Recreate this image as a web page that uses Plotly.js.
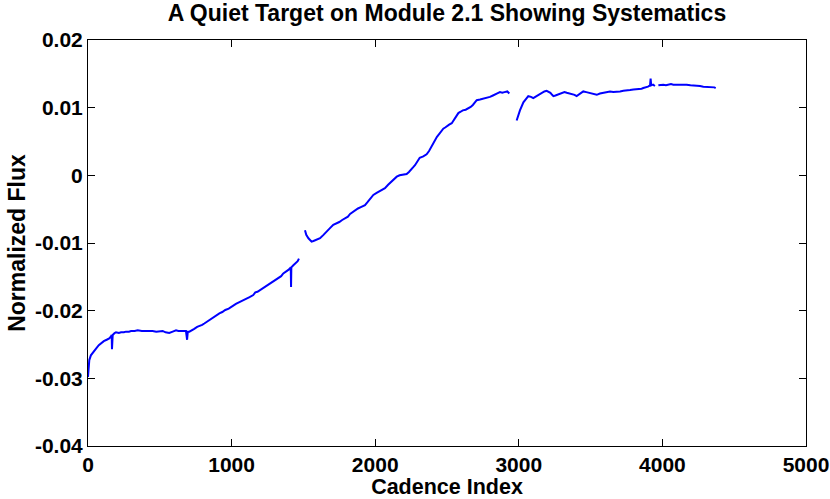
<!DOCTYPE html>
<html>
<head>
<meta charset="utf-8">
<script src="https://cdn.plot.ly/plotly-3.0.1.min.js"></script>
<style>html,body{margin:0;padding:0;background:#fff;}#chart{width:830px;height:499px;}</style>
</head>
<body>
<div id="chart"></div>
<script>
// Segment 1 (cadence 0 - ~1470)
const seg1Cadence = [0,5,9,20,35,56,75,90,110,130,148,160,165,167,169,172,185,195,215,230,250,265,285,300,325,346,375,400,425,450,475,500,520,540,566,590,613,630,650,670,682,690,695,706,725,740,760,775,795,810,830,845,865,880,900,915,935,956,980,1000,1030,1058,1080,1100,1125,1151,1165,1180,1195,1209,1230,1250,1270,1290,1310,1330,1345,1360,1375,1390,1400,1412,1414,1416,1430,1440,1450,1460,1469];
const seg1Flux = [-0.0298,-0.0285,-0.0273,-0.0266,-0.0261,-0.0256,-0.0251,-0.0248,-0.0245,-0.0243,-0.0241,-0.0238,-0.0236,-0.0257,-0.0236,-0.0236,-0.0233,-0.0232,-0.0233,-0.0232,-0.0232,-0.0231,-0.0231,-0.0230,-0.0230,-0.0229,-0.0230,-0.0230,-0.0229,-0.0230,-0.0231,-0.0231,-0.0230,-0.0232,-0.0233,-0.0231,-0.0229,-0.0230,-0.0230,-0.0231,-0.0230,-0.0243,-0.0231,-0.0231,-0.0229,-0.0227,-0.0224,-0.0223,-0.0221,-0.0219,-0.0216,-0.0214,-0.0212,-0.0209,-0.0206,-0.0204,-0.0202,-0.0199,-0.0197,-0.0194,-0.0190,-0.0187,-0.0185,-0.0182,-0.0180,-0.0177,-0.0173,-0.0172,-0.0170,-0.0167,-0.0165,-0.0162,-0.0160,-0.0157,-0.0154,-0.0151,-0.0149,-0.0145,-0.0143,-0.0140,-0.0139,-0.0136,-0.0165,-0.0136,-0.0133,-0.0131,-0.0130,-0.0127,-0.0123];

// Segment 2 (cadence ~1510 - ~2935)
const seg2Cadence = [1511,1520,1535,1545,1557,1570,1585,1600,1616,1640,1660,1685,1708,1730,1750,1770,1790,1810,1825,1845,1859,1880,1900,1915,1929,1945,1960,1975,1987,2010,2030,2050,2068,2090,2110,2130,2150,2170,2190,2205,2219,2235,2250,2265,2277,2295,2310,2335,2358,2375,2390,2405,2416,2430,2445,2460,2474,2490,2500,2515,2533,2545,2555,2568,2579,2595,2610,2630,2649,2665,2680,2695,2707,2730,2750,2775,2799,2820,2835,2850,2869,2885,2900,2920,2934];
const seg2Flux = [-0.0081,-0.0088,-0.0093,-0.0095,-0.0098,-0.0097,-0.0096,-0.0095,-0.0093,-0.0088,-0.0083,-0.0078,-0.0073,-0.0071,-0.0069,-0.0066,-0.0064,-0.0061,-0.0057,-0.0054,-0.0051,-0.0049,-0.0047,-0.0046,-0.0044,-0.0040,-0.0036,-0.0032,-0.0029,-0.0026,-0.0024,-0.0021,-0.0019,-0.0014,-0.0010,-0.0006,-0.0002,0.0000,0.0001,0.0001,0.0002,0.0005,0.0008,0.0012,0.0015,0.0021,0.0026,0.0028,0.0031,0.0036,0.0042,0.0047,0.0052,0.0057,0.0061,0.0065,0.0069,0.0071,0.0073,0.0075,0.0077,0.0081,0.0085,0.0089,0.0092,0.0094,0.0096,0.0097,0.0099,0.0101,0.0104,0.0108,0.0111,0.0112,0.0113,0.0114,0.0116,0.0118,0.0120,0.0121,0.0123,0.0122,0.0123,0.0124,0.0121];

// Segment 3 (cadence ~2985 - ~3950)
const seg3Cadence = [2985,3008,3032,3050,3066,3085,3101,3115,3130,3145,3160,3178,3194,3208,3220,3232,3241,3255,3270,3285,3300,3318,3334,3352,3370,3388,3403,3415,3425,3437,3449,3470,3490,3505,3520,3532,3543,3565,3590,3612,3635,3658,3680,3695,3705,3728,3751,3775,3798,3820,3840,3855,3867,3885,3900,3914,3918,3922,3935,3948];
const seg3Flux = [0.0081,0.0096,0.0108,0.0113,0.0117,0.0116,0.0114,0.0116,0.0118,0.0120,0.0122,0.0124,0.0125,0.0124,0.0122,0.0119,0.0117,0.0118,0.0119,0.0120,0.0121,0.0123,0.0122,0.0121,0.0120,0.0119,0.0117,0.0119,0.0121,0.0123,0.0124,0.0123,0.0122,0.0121,0.0120,0.0119,0.0119,0.0121,0.0122,0.0123,0.0124,0.0123,0.0123,0.0124,0.0124,0.0125,0.0125,0.0126,0.0127,0.0127,0.0128,0.0128,0.0129,0.0130,0.0131,0.0133,0.0143,0.0133,0.0134,0.0132];

// Segment 4 (cadence ~3970 - ~4370)
const seg4Cadence = [3972,3990,4006,4025,4040,4060,4076,4100,4120,4145,4169,4195,4220,4240,4262,4285,4310,4330,4350,4362,4371];
const seg4Flux = [0.0133,0.0134,0.0134,0.0133,0.0134,0.0135,0.0134,0.0134,0.0135,0.0134,0.0134,0.0133,0.0133,0.0132,0.0132,0.0131,0.0131,0.0131,0.0130,0.0130,0.0129];

const xTickVals = [0,1000,2000,3000,4000,5000];
const xTickText = ['0','1000','2000','3000','4000','5000'];
const yTickVals = [-0.04,-0.03,-0.02,-0.01,0,0.01,0.02];
const yTickText = ['-0.04','-0.03','-0.02','-0.01','0','0.01','0.02'];

const segments = [[seg1Cadence,seg1Flux],[seg2Cadence,seg2Flux],[seg3Cadence,seg3Flux],[seg4Cadence,seg4Flux]];
const traces = segments.map(s => ({
  x: s[0], y: s[1], type: 'scatter', mode: 'lines',
  line: {color: '#0000ff', width: 2}, hoverinfo: 'skip', showlegend: false
}));

const FONT = 'Liberation Sans, Arial, Helvetica, sans-serif';
const layout = {
  width: 830, height: 499,
  margin: {l: 88, r: 24, t: 40, b: 53},
  paper_bgcolor: '#ffffff', plot_bgcolor: '#ffffff',
  font: {family: FONT, color: '#000000'},
  showlegend: false,
  title: {text: '<b>A Quiet Target on Module 2.1 Showing Systematics</b>', font: {family: FONT, size: 23, color: '#000'}, x: 0.5385, xanchor: 'center', y: 0.99, yanchor: 'top'},
  xaxis: {
    range: [0, 5000], tickmode: 'array', tickvals: xTickVals, ticktext: xTickText.map(t => '<b>' + t + '</b>'),
    ticks: 'inside', ticklen: 7, tickcolor: '#000', tickwidth: 1,
    showline: true, linecolor: '#000', linewidth: 1, mirror: 'ticks',
    showgrid: false, zeroline: false, ticklabeloverflow: 'allow',
    tickfont: {family: FONT, size: 21, color: '#000'},
    title: {text: '<b>Cadence Index</b>', font: {family: FONT, size: 21.5, color: '#000'}, standoff: 0}
  },
  yaxis: {
    range: [-0.04, 0.02], tickmode: 'array', tickvals: yTickVals, ticktext: yTickText.map(t => '<b>' + t + '</b>'),
    ticks: 'inside', ticklen: 7, tickcolor: '#000', tickwidth: 1,
    showline: true, linecolor: '#000', linewidth: 1, mirror: 'ticks',
    showgrid: false, zeroline: false, ticklabeloverflow: 'allow',
    tickfont: {family: FONT, size: 21, color: '#000'},
    title: {text: '<b>Normalized Flux</b>', font: {family: FONT, size: 23, color: '#000'}, standoff: 2}
  }
};

Plotly.newPlot('chart', traces, layout, {staticPlot: true, displayModeBar: false});
</script>
</body>
</html>
